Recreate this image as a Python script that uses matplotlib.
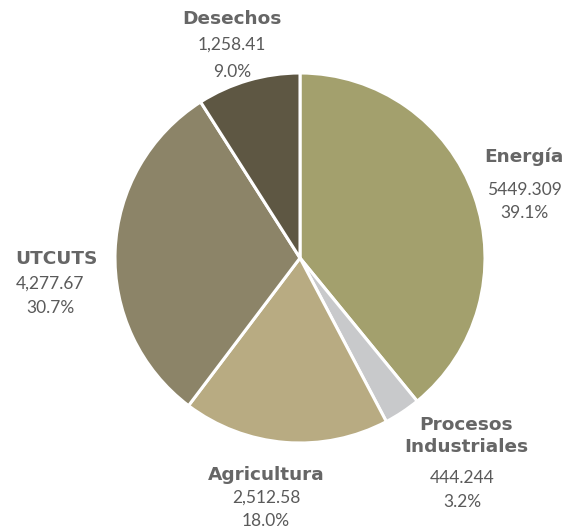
import matplotlib
matplotlib.use("Agg")
import matplotlib.pyplot as plt

categories = ["Energía", "Procesos\nIndustriales", "Agricultura", "UTCUTS", "Desechos"]
values = [5449.309, 444.244, 2512.58, 4277.67, 1258.41]
value_labels = ["5449.309", "444.244", "2,512.58", "4,277.67", "1,258.41"]
colors = ["#a3a06d", "#c8c9cb", "#b8ab82", "#8c8468", "#5e5743"]

W, H = 565, 532
fig = plt.figure(figsize=(W / 100, H / 100), dpi=100)
ax = fig.add_axes([0, 0, 1, 1])
ax.set_xlim(0, W)
ax.set_ylim(0, H)
ax.set_aspect("equal")
ax.axis("off")

cx, cy, r = 300, H - 258, 185
ax.pie(values, colors=colors, startangle=90, counterclock=False,
       center=(cx, cy), radius=r,
       wedgeprops=dict(edgecolor="white", linewidth=2.2))
ax.set_xlim(0, W)
ax.set_ylim(0, H)

total = sum(values)
pcts = [f"{v / total * 100:.1f}%" for v in values]

# label anchor positions (pixel coords, y from top): name, value, percent
pos = [
    (524, [157], 190, 213),
    (466, [425, 447], 478, 502),
    (266, [475], 498, 521),
    (56, [259], 284, 308),
    (232, [19], 45, 72),
]
for i, (x, ys, yv, yp) in enumerate(pos):
    names = categories[i].split("\n")
    for name, yn in zip(names, ys):
        ax.text(x, H - yn, name, ha="center", va="center", fontsize=13.3,
                fontweight="bold", color="#666666", family="DejaVu Sans")
    xv = x - 4 if i == 1 else (x - 6 if i == 3 else x)
    ax.text(xv, H - yv, value_labels[i], ha="center", va="center", fontsize=12.5,
            color="#5a5a5a", family="Lato")
    ax.text(xv, H - yp, pcts[i], ha="center", va="center", fontsize=12.5,
            color="#5a5a5a", family="Lato")

fig.savefig("out.png", dpi=100)
